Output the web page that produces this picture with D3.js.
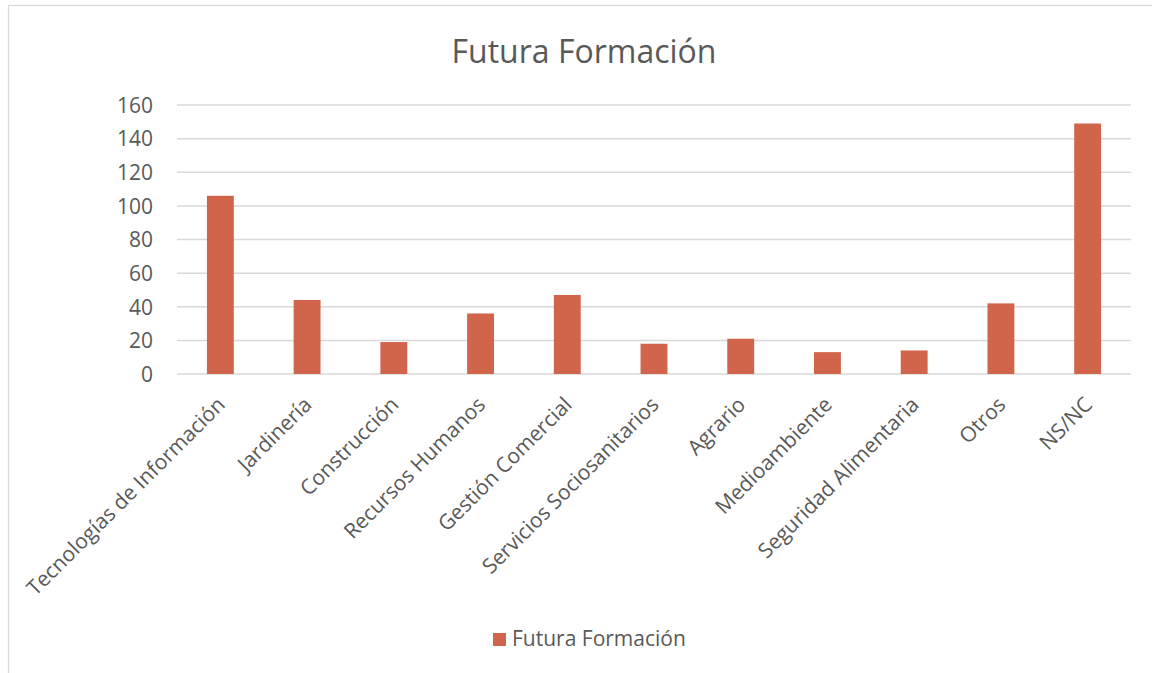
<!DOCTYPE html>
<html>
<head>
<meta charset="utf-8">
<script src="https://cdn.jsdelivr.net/npm/d3@7"></script>
<style>
  body { margin: 0; background: #fff; }
  text { font-family: "Open Sans", sans-serif; fill: #595959; }
</style>
</head>
<body>
<div id="canvas"></div>
<script>
const categories = [
    "Tecnologías de Información", "Jardinería", "Construcción", "Recursos Humanos",
    "Gestión Comercial", "Servicios Sociosanitarios", "Agrario", "Medioambiente",
    "Seguridad Alimentaria", "Otros", "NS/NC"
]
const values = [106, 44, 19, 36, 47, 18, 21, 13, 14, 42, 149]
const yTicks = [0, 20, 40, 60, 80, 100, 120, 140, 160]
const seriesName = "Futura Formación"

const width = 1152
const height = 673
const margin = { top: 105, left: 177, bottom: 299, right: 21 }
const iwidth = width - margin.left - margin.right
const iheight = height - margin.top - margin.bottom
const barColor = "#d1654b"

const svg = d3.select("#canvas").append("svg")
    .attr("width", width)
    .attr("height", height)

// chart border (runs off the right and bottom of the picture)
svg.append("rect")
    .attr("x", 8.5).attr("y", 5.5)
    .attr("width", 1300).attr("height", 800)
    .attr("fill", "none")
    .attr("stroke", "#d9d9d9")
    .attr("stroke-width", 1.3)

svg.append("text")
    .attr("x", 584).attr("y", 63)
    .attr("text-anchor", "middle")
    .style("font-size", "32px")
    .text(seriesName)

const g = svg.append("g")
    .attr("transform", `translate(${margin.left}, ${margin.top})`)

const y = d3.scaleLinear()
    .domain([0, 160])
    .range([iheight, 0])

const x = d3.scaleBand()
    .domain(categories)
    .range([0, iwidth])
    .paddingInner(0.69)
    .paddingOuter(0.345)

// gridlines
g.selectAll("line.grid").data(yTicks)
    .enter().append("line")
    .attr("class", "grid")
    .attr("x1", 0).attr("x2", iwidth)
    .attr("y1", d => y(d)).attr("y2", d => y(d))
    .attr("stroke", "#d9d9d9")
    .attr("stroke-width", 1.5)

const yAxis = g.append("g")
    .call(d3.axisLeft(y).tickValues(yTicks).tickSize(0).tickPadding(24))
yAxis.select(".domain").remove()
yAxis.selectAll("text")
    .style("font-size", "21px")
    .attr("fill", "#595959")
    .attr("dy", "0.35em")

g.selectAll("rect.bar").data(values)
    .enter().append("rect")
    .attr("class", "bar")
    .attr("x", (d, i) => x(categories[i]))
    .attr("y", d => y(d))
    .attr("width", x.bandwidth())
    .attr("height", d => iheight - y(d))
    .attr("fill", barColor)

const xAxis = g.append("g")
    .attr("transform", `translate(0, ${iheight})`)
    .call(d3.axisBottom(x).tickSize(0).tickPadding(0))
xAxis.select(".domain").remove()
xAxis.selectAll("text")
    .style("font-size", "21px")
    .attr("fill", "#595959")
    .attr("text-anchor", "end")
    .attr("dy", null)
    .attr("y", 0)
    .attr("transform", "translate(6, 32) rotate(-45)")

// legend
const legend = svg.append("g").attr("transform", "translate(493, 633)")
legend.append("rect")
    .attr("width", 13).attr("height", 13)
    .attr("fill", barColor)
legend.append("text")
    .attr("x", 19).attr("y", 13)
    .style("font-size", "21px")
    .text(seriesName)
</script>
</body>
</html>
